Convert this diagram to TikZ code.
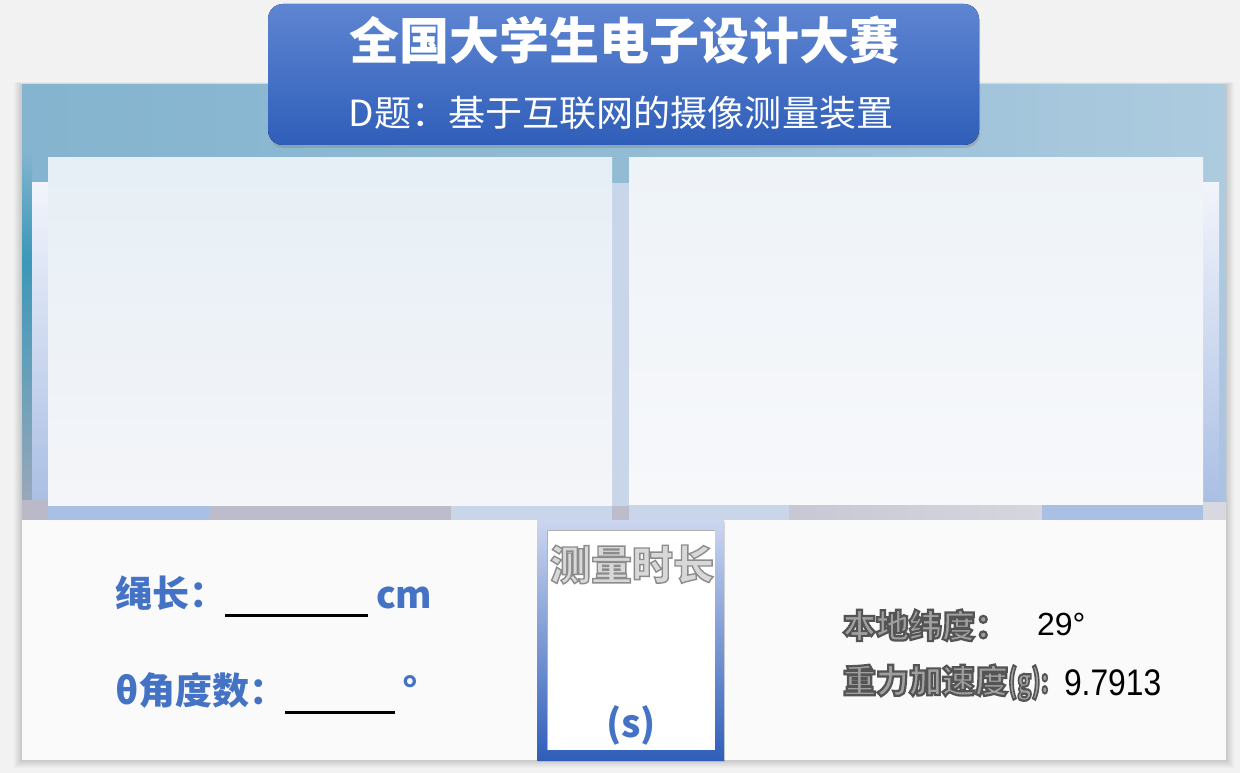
\documentclass[tikz,border=0pt]{standalone}
\usepackage{fontspec}
\usepackage{graphicx}
\setmainfont{Noto Sans CJK SC}
\newfontfamily\numfont{Liberation Sans}
\usetikzlibrary{shadows}
\definecolor{bg}{HTML}{F2F2F2}
\definecolor{skyA}{HTML}{84B4CF}
\definecolor{skyM}{HTML}{92BBD4}
\definecolor{skyB}{HTML}{ADCBDF}
\definecolor{skyT}{HTML}{3B98B9}
\definecolor{skyG}{HTML}{9AA8BA}
\definecolor{lav}{HTML}{AABFE4}
\definecolor{lavL}{HTML}{C9D5E8}
\definecolor{lavW}{HTML}{F2F4FB}
\definecolor{grayS}{HTML}{BCBCCA}
\definecolor{grayA}{HTML}{B9B9C7}
\definecolor{grayB}{HTML}{C8C8D4}
\definecolor{grayC}{HTML}{D6D6DF}
\definecolor{grayD}{HTML}{D8D8E0}
\definecolor{pLtop}{HTML}{E6EFF6}
\definecolor{pLbot}{HTML}{F4F5F8}
\definecolor{pRtop}{HTML}{EEF3F8}
\definecolor{pRbot}{HTML}{F7F8FA}
\definecolor{tTop}{HTML}{5E85D2}
\definecolor{tBot}{HTML}{2F5EB9}
\definecolor{bTop}{HTML}{CCD6F0}
\definecolor{bMid}{HTML}{5079CC}
\definecolor{lblue}{HTML}{4472C4}
\definecolor{panelW}{HTML}{FAFAFA}
\definecolor{fillg}{HTML}{A0A0A0}
\definecolor{embL}{HTML}{D8D8D8}
% outlined text: fill in current colour, stroke in grey #1 with width #2
\newcommand{\strokedtext}[3]{\special{pdf:literal direct q 2 Tr #2 w #1 #1 #1 RG}#3\special{pdf:literal direct Q}}
\begin{document}
\begin{tikzpicture}[x=1pt,y=-1pt,
  every node/.style={inner sep=0pt, outer sep=0pt},
  blab/.style={font=\bfseries\fontsize{37}{37}\selectfont, text=lblue, anchor=base west},
  rlab/.style={font=\bfseries\fontsize{33}{33}\selectfont, anchor=base west, text=fillg},
  vlab/.style={font=\numfont\fontsize{#1}{#1}\selectfont, text=black, anchor=base west},
  uline/.style={line width=3pt, black},
  emb/.style={font=\bfseries\fontsize{41}{41}\selectfont, anchor=base}
]
\useasboundingbox (0,0) rectangle (1240,773);
\fill[bg] (0,0) rectangle (1240,773);
% soft shadow of the panel
\foreach \d in {1,...,8}
  \fill[black, opacity=0.02] (22-\d,85-0.4*\d) rectangle (1226+\d,760+\d);
% sky photo
\shade[left color=skyA, right color=skyB, middle color=skyM] (22,85) rectangle (1226,183);
\shade[top color=skyA, bottom color=skyT] (22,150) rectangle (32,260);
\shade[top color=skyT, bottom color=skyG] (22,260) rectangle (32,506);
\shade[top color=skyB, bottom color=lav!70!skyB] (1219,183) rectangle (1226,506);
% side strips
\shade[top color=lavW, bottom color=lav] (32,183) rectangle (48,500);
\shade[top color=lavW, bottom color=lav] (1203,183) rectangle (1219,502);
\fill[lavL] (612,183) rectangle (629,506);
% photo panels
\shade[top color=pLtop, bottom color=pLbot] (48,158) rectangle (612,506);
\shade[top color=pRtop, bottom color=pRbot] (629,158) rectangle (1203,505);
% bottom strip
\fill[grayA] (22,500) rectangle (48,520);
\fill[lav] (48,506) rectangle (209,520);
\fill[grayS] (209,506) rectangle (451,520);
\fill[lavL] (451,506) rectangle (612,520);
\fill[grayS] (612,506) rectangle (629,520);
\fill[lavL] (629,505) rectangle (789,520);
\shade[left color=grayB, right color=grayC] (789,505) rectangle (1042,520);
\fill[lav] (1042,505) rectangle (1203,520);
\fill[grayD] (1203,502) rectangle (1226,520);
% lower white panel
\fill[panelW] (22,520) rectangle (1226,760);
% title banner
\fill[rounded corners=15pt, top color=tTop, bottom color=tBot,
      drop shadow={opacity=0.35, shadow xshift=1pt, shadow yshift=-3pt}] (268,4) rectangle (979,145);
\node[font=\bfseries\fontsize{50}{50}\selectfont, text=white, anchor=base] (title) at (624,60) {全国大学生电子设计大赛};
\node[font=\fontsize{36}{36}\selectfont, text=white, anchor=base] (subtitle) at (621,127) {\scalebox{1.03}[1]{D题：基于互联网的摄像测量装置}};
% centre timer box
\fill[top color=bTop, middle color=bMid, bottom color=tBot,
      drop shadow={opacity=0.3, shadow xshift=1pt, shadow yshift=-2pt}] (537,520) rectangle (724,760);
\fill[white] (547,530) rectangle (715,750);
\draw[gray!60, line width=1pt] (547.5,750) -- (547.5,530.5) -- (715,530.5);
\node[emb, text=embL] (time) at (632,580) {\strokedtext{0.55}{1.4}{测量时长}};
\node[font=\bfseries\fontsize{38}{38}\selectfont, text=lblue, anchor=base] (unit) at (631,737) {(s)};
% left inputs
\node[blab] (rope) at (115,607) {绳长：};
\draw[uline] (225,615) -- (368,615);
\node[blab] (cm) at (376,608) {cm};
\node[blab] (theta) at (115,704) {θ角度数：};
\draw[uline] (285,712) -- (395,712);
\node[blab] (deg) at (402,704) {°};
% right constants
\node[rlab] (lat) at (843,638) {\strokedtext{0.33}{2.2}{本地纬度：}};
\node[rlab] (grav) at (843,693) {\strokedtext{0.33}{2.2}{重力加速度\scalebox{0.7}[1]{(g):}}};
\node[vlab=32] (latv) at (1037,635) {29°};
\node[vlab=37] (gravv) at (1064,695) {\scalebox{0.86}[1]{9.7913}};
\end{tikzpicture}
\end{document}
